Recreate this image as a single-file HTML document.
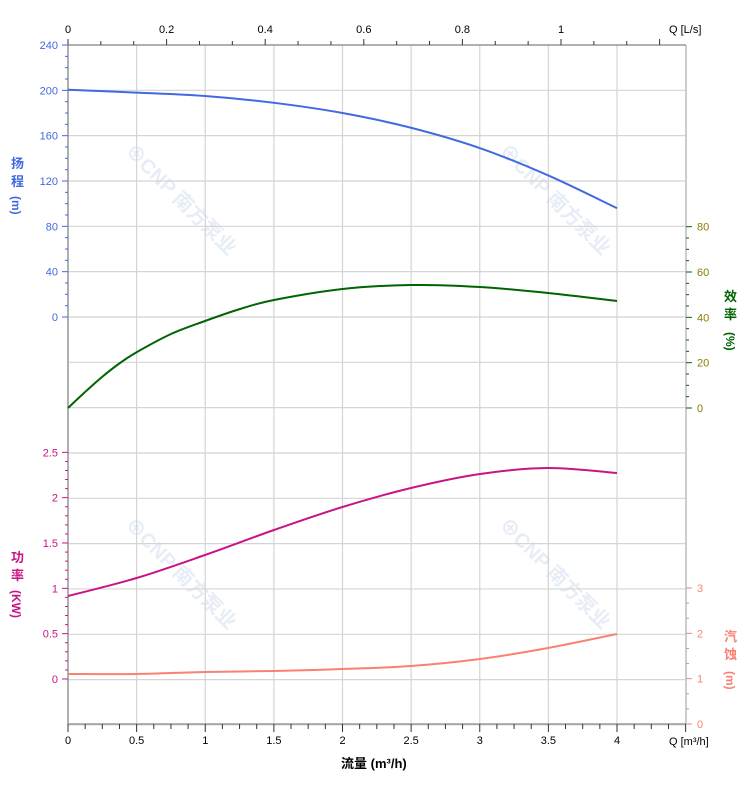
<!DOCTYPE html>
<html><head><meta charset="utf-8"><style>
html,body{margin:0;padding:0;background:#fff;width:752px;height:797px;overflow:hidden}
svg text{font-family:"Liberation Sans","Noto Sans CJK SC",sans-serif}
</style></head><body>
<svg id="s" width="752" height="797" viewBox="0 0 752 797" xmlns="http://www.w3.org/2000/svg">
<g id="wm" fill="#e6edf6" font-weight="bold" font-size="20">
<text transform="translate(124,152) rotate(45)">⊕CNP 南方泵业</text>
<text transform="translate(498,152) rotate(45)">⊕CNP 南方泵业</text>
<text transform="translate(124,526) rotate(45)">⊕CNP 南方泵业</text>
<text transform="translate(498,526) rotate(45)">⊕CNP 南方泵业</text>
</g>
<g id="grid" stroke="#d4d4d4" stroke-width="1.2"></g>
<g id="ax"></g>
<g fill="none" stroke-width="2">
<path id="pH" stroke="#4169e1"/>
<path id="pE" stroke="#006400"/>
<path id="pP" stroke="#c71585"/>
<path id="pN" stroke="#fa8072"/>
</g>
<g font-size="11">
<text x="11" y="168" fill="#4169e1" font-size="13" font-weight="bold">扬</text>
<text x="11" y="186" fill="#4169e1" font-size="13" font-weight="bold">程</text>
<text transform="translate(12,196) rotate(90)" fill="#4169e1" font-size="12" font-weight="bold">(m)</text>
<text x="724" y="301" fill="#006400" font-size="13" font-weight="bold">效</text>
<text x="724" y="319" fill="#006400" font-size="13" font-weight="bold">率</text>
<text transform="translate(726,332) rotate(90)" fill="#006400" font-size="12" font-weight="bold">(%)</text>
<text x="11" y="562" fill="#c71585" font-size="13" font-weight="bold">功</text>
<text x="11" y="580" fill="#c71585" font-size="13" font-weight="bold">率</text>
<text transform="translate(12,590) rotate(90)" fill="#c71585" font-size="12" font-weight="bold">(KW)</text>
<text x="724" y="641" fill="#fa8072" font-size="13" font-weight="bold">汽</text>
<text x="724" y="659" fill="#fa8072" font-size="13" font-weight="bold">蚀</text>
<text transform="translate(726,671) rotate(90)" fill="#fa8072" font-size="12" font-weight="bold">(m)</text>
<text x="341" y="768" font-size="13" font-weight="bold" fill="#000">流量 (m³/h)</text>
<text x="669" y="745" fill="#000">Q [m³/h]</text>
<text x="669" y="33" fill="#000">Q [L/s]</text>
</g>
</svg>
<script>
const NS="http://www.w3.org/2000/svg";
function el(p,t,a,txt){const e=document.createElementNS(NS,t);for(const k in a)e.setAttribute(k,a[k]);if(txt!=null)e.textContent=txt;p.appendChild(e);return e;}
const g=document.getElementById('grid'),ax=document.getElementById('ax');
const L=68,R=686,T=45,B=724,U=137.25,H=45.33;
for(let i=0;i<=9;i++){const x=L+i*U/2;el(g,'line',{x1:x,x2:x,y1:T,y2:B});}
for(let i=0;i<=15;i++){const y=T+i*H;el(g,'line',{x1:L,x2:R,y1:y,y2:y});}
el(ax,'line',{x1:L,x2:L,y1:T,y2:B,stroke:'#999','stroke-width':1.5});
el(ax,'line',{x1:R,x2:R,y1:T,y2:B,stroke:'#ccc','stroke-width':2});
el(ax,'line',{x1:L,x2:R,y1:B,y2:B,stroke:'#999','stroke-width':1.5});
el(ax,'line',{x1:L,x2:R,y1:T,y2:T,stroke:'#999','stroke-width':1.5});
for(let i=0;i<=36;i++){const x=L+i*U/8;if(x>R+0.5)break;const maj=i%4==0;
el(ax,'line',{x1:x,x2:x,y1:B,y2:B+(maj?8:5),stroke:'#333'});
if(maj&&i<=32){const v=i/8;el(ax,'text',{x:x,y:B+20,'font-size':11,'text-anchor':'middle'},String(v));}}
const LS=493;
for(let i=0;i<=18;i++){const x=L+i*LS/15;if(x>R)break;const maj=i%3==0;
el(ax,'line',{x1:x,x2:x,y1:T,y2:T-(maj?6:4),stroke:'#333'});
if(maj&&i<=15){const v=+(i/15).toFixed(1);el(ax,'text',{x:x,y:T-12,'font-size':11,'text-anchor':'middle'},String(v));}}
for(let i=0;i<=24;i++){const y=317-i*H/4;const maj=i%4==0;
el(ax,'line',{x1:L,x2:L-(maj?6:3),y1:y,y2:y,stroke:'#4169e1'});
if(maj)el(ax,'text',{x:L-10,y:y+4,'font-size':11,'text-anchor':'end',fill:'#4169e1'},String(i*10));}
for(let i=0;i<=16;i++){const y=408-i*H/4;const maj=i%4==0;
el(ax,'line',{x1:R,x2:R+(maj?6:3),y1:y,y2:y,stroke:'#006400'});
if(maj)el(ax,'text',{x:R+11,y:y+4,'font-size':11,fill:'#8b7d00'},String(i*5));}
for(let i=0;i<=25;i++){const y=679-i*H/5;const maj=i%5==0;
el(ax,'line',{x1:L,x2:L-(maj?6:3),y1:y,y2:y,stroke:'#c71585'});
if(maj)el(ax,'text',{x:L-10,y:y+4,'font-size':11,'text-anchor':'end',fill:'#c71585'},String(i/10));}
for(let i=0;i<=9;i++){const y=724-i*H/3;const maj=i%3==0;
el(ax,'line',{x1:R,x2:R+(maj?6:3),y1:y,y2:y,stroke:'#fa8072'});
if(maj)el(ax,'text',{x:R+11,y:y+4,'font-size':11,fill:'#fa8072'},String(i/3));}
function curve(id,pts){let d='M'+pts[0][0]+','+pts[0][1];
for(let i=0;i<pts.length-1;i++){const p0=pts[Math.max(0,i-1)],p1=pts[i],p2=pts[i+1],p3=pts[Math.min(pts.length-1,i+2)];
const c1=[p1[0]+(p2[0]-p0[0])/6,p1[1]+(p2[1]-p0[1])/6],c2=[p2[0]-(p3[0]-p1[0])/6,p2[1]-(p3[1]-p1[1])/6];
d+=` C${c1[0]},${c1[1]} ${c2[0]},${c2[1]} ${p2[0]},${p2[1]}`;}
document.getElementById(id).setAttribute('d',d);}
const xs=[68,136.6,205,274,342.5,411,480,548,617];
const Hh=[200.5,198,195,189,180,167,149,125,96];
curve('pH',xs.map((x,i)=>[x,317-Hh[i]*H/40]));
curve('pE',[[68,408],[84,393],[102,377],[120,363],[137,352],[171,334],[205,321],[240,309],[274,300],[342.5,289],[411,285],[480,287],[548,293],[617,301]]);
curve('pP',xs.map((x,i)=>[x,[596,578,555,530,507,488,474,468,473][i]]));
curve('pN',xs.map((x,i)=>[x,[674,674,672,671,669,666,659,648,634][i]]));
</script>
</body></html>
